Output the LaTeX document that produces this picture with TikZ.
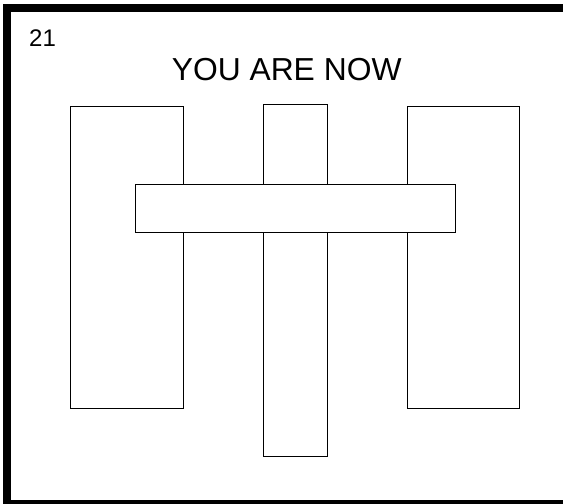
\documentclass[tikz,border=0pt]{standalone}
\usepackage{fontspec}
\setmainfont{Liberation Sans}
\begin{document}
\begin{tikzpicture}[x=1pt,y=1pt,
  box/.style={draw=black, fill=white, line width=1.3pt, inner sep=0pt, anchor=north west},
  frame/.style={draw=black, line width=8pt}]
\useasboundingbox (0,0) rectangle (563,504);
\clip (0,0) rectangle (563,504);
\fill[white] (0,0) rectangle (563,504);
\draw[frame] (7,496) rectangle (570,0);
\node[anchor=base west, inner sep=0pt, font=\fontsize{24}{28}\selectfont] (num) at (29,457.3) {21};
\node[anchor=base, inner sep=0pt, font=\fontsize{31.8}{36}\selectfont] (title) at (286.7,423) {YOU ARE NOW};
\node[box, minimum width=113pt, minimum height=302pt] (left) at (70,398) {};
\node[box, minimum width=64.5pt, minimum height=352pt] (mid) at (262.5,400) {};
\node[box, minimum width=112.5pt, minimum height=302pt] (right) at (406.5,398) {};
\node[box, minimum width=320.5pt, minimum height=48pt] (bar) at (134.5,320) {};
\end{tikzpicture}
\end{document}
